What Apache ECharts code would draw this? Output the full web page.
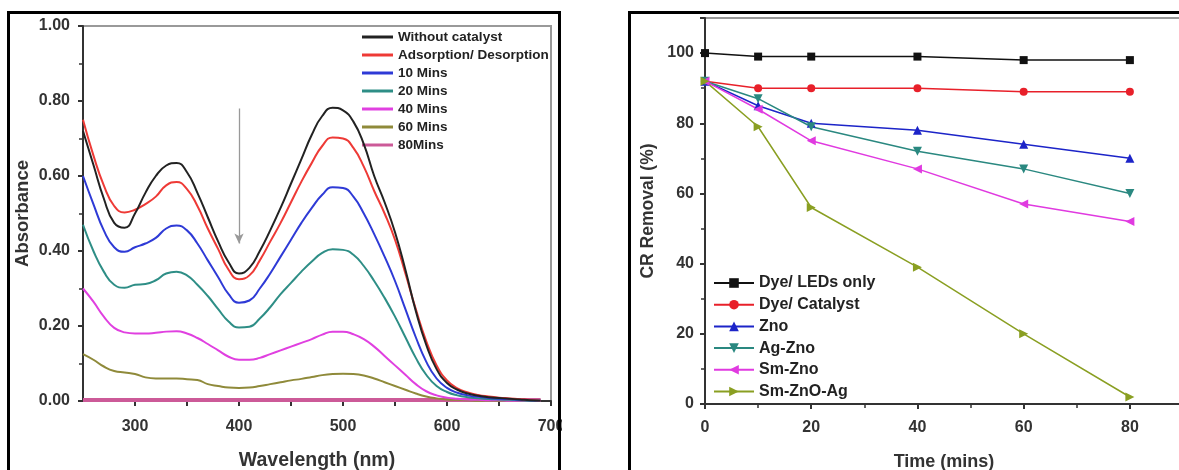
<!DOCTYPE html>
<html>
<head>
<meta charset="utf-8">
<script src="https://cdn.jsdelivr.net/npm/echarts@6/dist/echarts.min.js"></script>
<style>
html,body{margin:0;padding:0;background:#fff;}
#c{width:1179px;height:470px;}
</style>
</head>
<body>
<div id="c"></div>
<script>
// ---------- Left panel: UV-Vis spectra ----------
const wavelengths = [250,260,270,280,290,300,310,320,330,340,350,360,370,380,390,400,410,420,430,440,450,460,470,480,490,500,510,520,530,540,550,560,570,580,590,600,610,620,630,640,650,660,670,680,690];
const specNames = ['Without catalyst','Adsorption/ Desorption','10 Mins','20 Mins','40 Mins','60 Mins','80Mins'];
const absWithout = [0.72,0.63,0.54,0.475,0.462,0.50,0.555,0.60,0.628,0.635,0.61,0.555,0.49,0.425,0.37,0.34,0.355,0.40,0.455,0.515,0.58,0.645,0.71,0.76,0.782,0.775,0.745,0.685,0.60,0.53,0.45,0.35,0.24,0.15,0.085,0.048,0.03,0.02,0.014,0.01,0.008,0.006,0.004,0.002,0.001];
const absAdsorption = [0.75,0.655,0.575,0.52,0.503,0.51,0.525,0.545,0.575,0.584,0.565,0.52,0.46,0.405,0.35,0.325,0.335,0.375,0.425,0.475,0.53,0.585,0.635,0.68,0.703,0.70,0.675,0.625,0.56,0.50,0.43,0.34,0.245,0.16,0.095,0.055,0.034,0.023,0.016,0.012,0.009,0.007,0.005,0.003,0.001];
const abs10 = [0.60,0.525,0.455,0.41,0.398,0.41,0.42,0.435,0.46,0.468,0.455,0.42,0.375,0.33,0.285,0.262,0.268,0.30,0.34,0.385,0.43,0.475,0.515,0.55,0.57,0.568,0.545,0.50,0.445,0.385,0.32,0.245,0.17,0.105,0.06,0.035,0.022,0.015,0.011,0.008,0.006,0.005,0.003,0.002,0.001];
const abs20 = [0.47,0.40,0.345,0.31,0.302,0.31,0.312,0.322,0.34,0.345,0.335,0.31,0.28,0.245,0.212,0.196,0.198,0.22,0.25,0.285,0.315,0.345,0.372,0.395,0.405,0.403,0.39,0.36,0.32,0.275,0.225,0.17,0.115,0.07,0.04,0.024,0.015,0.01,0.007,0.005,0.004,0.003,0.002,0.001,0.001];
const abs40 = [0.30,0.265,0.225,0.195,0.183,0.18,0.18,0.182,0.185,0.186,0.18,0.168,0.152,0.135,0.118,0.11,0.11,0.115,0.125,0.135,0.145,0.155,0.165,0.177,0.185,0.185,0.178,0.165,0.145,0.12,0.095,0.07,0.045,0.026,0.015,0.009,0.006,0.004,0.003,0.002,0.002,0.001,0.001,0.001,0.0];
const abs60 = [0.125,0.11,0.092,0.08,0.076,0.072,0.063,0.06,0.06,0.06,0.058,0.056,0.045,0.04,0.036,0.035,0.036,0.04,0.045,0.05,0.055,0.059,0.064,0.069,0.072,0.073,0.072,0.068,0.06,0.05,0.04,0.03,0.02,0.012,0.007,0.004,0.003,0.002,0.001,0.001,0.0,0.0,0.0,0.0,0.0];
const abs80 = [0.003,0.003,0.003,0.003,0.003,0.003,0.003,0.003,0.003,0.003,0.003,0.003,0.003,0.003,0.003,0.003,0.003,0.003,0.003,0.003,0.003,0.003,0.003,0.003,0.003,0.003,0.003,0.003,0.003,0.003,0.003,0.003,0.003,0.003,0.003,0.003,0.003,0.003,0.003,0.003,0.003,0.003,0.003,0.003,0.003];
const specColors = ['#222222','#ee3a36','#2e3ad6','#2e8e86','#e040e0','#8f8a3a','#cc5a98'];
const wlLabelTicks = [300,400,500,600,700];
const wlTicks = [300,350,400,450,500,550,600,650,700];
const arrowFrom = [400,0.78];
const arrowTo = [400,0.42];

// ---------- Right panel: CR removal ----------
const times = [0,10,20,40,60,80];
const remNames = ['Dye/ LEDs only','Dye/ Catalyst','Zno','Ag-Zno','Sm-Zno','Sm-ZnO-Ag'];
const remDyeLED = [100,99,99,99,98,98];
const remDyeCat = [92,90,90,90,89,89];
const remZno = [92,85,80,78,74,70];
const remAgZno = [92,87,79,72,67,60];
const remSmZno = [92,84,75,67,57,52];
const remSmZnOAg = [92,79,56,39,20,2];
const remColors = ['#111111','#e8202a','#1c24c8','#2a8880','#e03ae0','#8a9f22'];

const FONT = 'Liberation Sans, Arial, sans-serif';
const specArrays = [absWithout,absAdsorption,abs10,abs20,abs40,abs60,abs80];
const remArrays = [remDyeLED,remDyeCat,remZno,remAgZno,remSmZno,remSmZnOAg];
const remSymbols = ['rect','circle','triangle','triangle','triangle','triangle'];
const remRotate = [0,0,0,180,90,-90];

const series = [];
specArrays.forEach((arr,i)=>{
  const s = {
    name: specNames[i], type:'line', xAxisIndex:0, yAxisIndex:0,
    data: wavelengths.map((w,k)=>[w,arr[k]]),
    smooth: true, symbol:'none',
    lineStyle:{color:specColors[i], width: i===6?4:2},
    itemStyle:{color:specColors[i]},
    z: 3 + (6-i)
  };
  if(i===0){
    s.markLine = {
      silent:true, symbol:['none','arrow'], symbolSize:[7,10],
      label:{show:false},
      lineStyle:{color:'#999', width:1.3, type:'solid'},
      data:[[{coord:arrowFrom},{coord:arrowTo}]]
    };
  }
  series.push(s);
});
remArrays.forEach((arr,i)=>{
  series.push({
    name: remNames[i], type:'line', xAxisIndex:1, yAxisIndex:1,
    data: times.map((t,k)=>[t,arr[k]]),
    symbol: remSymbols[i], symbolRotate: remRotate[i],
    symbolSize: i<2?8:9,
    lineStyle:{color:remColors[i], width:1.5},
    itemStyle:{color:remColors[i]},
    z: 3
  });
});

const axisText = {color:'#333', fontWeight:'bold', fontFamily:FONT, fontSize:16};
const chart = echarts.init(document.getElementById('c'), null, {renderer:'canvas'});
chart.setOption({
  animation:false,
  backgroundColor:'#fff',
  grid:[
    {left:83, top:26, width:468, height:375, show:true, borderColor:'#999', borderWidth:2, backgroundColor:'transparent', containLabel:false, outerBoundsMode:'none'},
    {left:705, top:18, width:478, height:386, show:true, borderColor:'#999', borderWidth:2, backgroundColor:'transparent', containLabel:false, outerBoundsMode:'none'}
  ],
  xAxis:[
    {gridIndex:0, type:'value', min:250, max:700,
     name:'Wavelength (nm)', nameLocation:'middle', nameGap:50,
     nameTextStyle:{color:'#333', fontWeight:'bold', fontFamily:FONT, fontSize:19.5},
     axisLine:{lineStyle:{color:'#333', width:2}},
     axisTick:{customValues:wlTicks, length:5, lineStyle:{color:'#333', width:2}},
     axisLabel:Object.assign({customValues:wlLabelTicks, margin:18}, axisText),
     splitLine:{show:false}},
    {gridIndex:1, type:'value', min:0, max:90, interval:20,
     name:'Time (mins)', nameLocation:'middle', nameGap:49,
     nameTextStyle:{color:'#333', fontWeight:'bold', fontFamily:FONT, fontSize:18},
     axisLine:{lineStyle:{color:'#333', width:2}},
     axisTick:{length:5, lineStyle:{color:'#333', width:2}},
     minorTick:{show:true, splitNumber:2, length:4, lineStyle:{color:'#333', width:1.5}},
     axisLabel:Object.assign({margin:16, showMaxLabel:false}, axisText),
     splitLine:{show:false}}
  ],
  yAxis:[
    {gridIndex:0, type:'value', min:0, max:1, interval:0.2,
     name:'Absorbance', nameLocation:'middle', nameGap:51,
     nameTextStyle:{color:'#333', fontWeight:'bold', fontFamily:FONT, fontSize:18.5},
     axisLine:{lineStyle:{color:'#333', width:2}},
     axisTick:{length:5, lineStyle:{color:'#333', width:2}},
     minorTick:{show:true, splitNumber:2, length:4, lineStyle:{color:'#333', width:1.5}},
     axisLabel:Object.assign({margin:13, formatter:v=>v.toFixed(2)}, axisText),
     splitLine:{show:false}},
    {gridIndex:1, type:'value', min:0, max:110, interval:20,
     name:'CR Removal (%)', nameLocation:'middle', nameGap:48,
     nameTextStyle:{color:'#333', fontWeight:'bold', fontFamily:FONT, fontSize:17.5},
     axisLine:{lineStyle:{color:'#333', width:2}},
     axisTick:{length:5, lineStyle:{color:'#333', width:2}},
     minorTick:{show:true, splitNumber:2, length:4, lineStyle:{color:'#333', width:1.5}},
     axisLabel:Object.assign({margin:11, showMaxLabel:false}, axisText),
     splitLine:{show:false}}
  ],
  legend:[
    {data:specNames, orient:'vertical', left:362, top:30, padding:0, itemWidth:31, itemHeight:3, icon:'rect',
     itemGap:4, textStyle:{color:'#222', fontWeight:'bold', fontFamily:FONT, fontSize:13.5, lineHeight:14}},
    {data:remNames, orient:'vertical', left:713, top:274, padding:0, itemWidth:40, itemHeight:12,
     itemGap:3.7, textStyle:{color:'#222', fontWeight:'bold', fontFamily:FONT, fontSize:16, lineHeight:18}}
  ],
  graphic:[
    {type:'rect', z:100, silent:true, shape:{x:562, y:0, width:66, height:470}, style:{fill:'#fff'}},
    {type:'rect', z:101, silent:true, shape:{x:8.5, y:12.5, width:551, height:470}, style:{fill:'none', stroke:'#000', lineWidth:3}},
    {type:'rect', z:101, silent:true, shape:{x:629.5, y:12.5, width:600, height:470}, style:{fill:'none', stroke:'#000', lineWidth:3}}
  ],
  series: series
});
</script>
</body>
</html>
